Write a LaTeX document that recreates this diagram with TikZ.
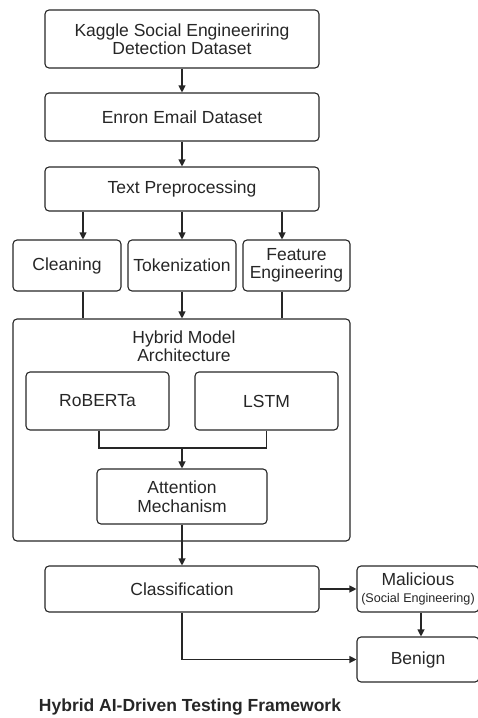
\documentclass[tikz,border=0pt]{standalone}
\usepackage{fontspec}
\setmainfont{Liberation Sans}
\usetikzlibrary{arrows.meta,positioning}
\tikzset{
 box/.style = {rectangle, rounded corners=4pt, draw=black!85,
           line width=1.1pt, align=center, inner sep=1pt,
           text=black!85, font=\fontsize{17.5}{18.5}\selectfont},
 plain/.style = {align=center, text=black!85,
           font=\fontsize{17.5}{18.5}\selectfont},
 arr/.style = {draw=black!85, line width=1.1pt,
           -{Triangle[length=7pt,width=7pt]}},
 line/.style = {draw=black!85, line width=1.1pt}
}

\begin{document}
\begin{tikzpicture}[x=1pt, y=-1pt]
  \useasboundingbox (0,0) rectangle (477,718);
  % Datasets
  \node[box, minimum width=274pt, minimum height=58pt] (kaggle) at (182,39)
  {Kaggle Social Engineeriring\\Detection Dataset};
  \node[box, minimum width=274pt, minimum height=48pt] (enron) at (182,117)
  {Enron Email Dataset};
  \node[box, minimum width=274pt, minimum height=44pt] (prep) at (182,189)
  {Text Preprocessing};

  % Preprocessing steps
  \node[box, minimum width=108pt, minimum height=51pt] (clean) at (67,265.5)
  {Cleaning};
  \node[box, minimum width=108pt, minimum height=51pt] (token) at (182,265.5)
  {Tokenization};
  \node[box, minimum width=107pt, minimum height=51pt] (feature) at (296.5,265.5)
  {Feature\\Engineering};

  % Hybrid model
  \node[box, minimum width=337pt, minimum height=222pt] (hybrid) at (181.5,430) {};
  \node[plain] (arch) at (184,346)
  {Hybrid Model\\Architecture};
  \node[box, minimum width=143pt, minimum height=58pt] (roberta) at (97.5,401)
  {RoBERTa};
  \node[box, minimum width=143pt, minimum height=58pt] (lstm) at (266.5,401)
  {LSTM};
  \node[box, minimum width=170pt, minimum height=55pt] (attn) at (182,496.5)
  {Attention\\Mechanism};
  \coordinate (merge) at (182,448);

  % Output
  \node[box, minimum width=274pt, minimum height=46pt] (classif) at (182,589)
  {Classification};
  \node[box, minimum width=122pt, minimum height=46pt] (malic) at (418,589)
  {Malicious\\[-2pt]{\fontsize{12.6}{14}\selectfont(Social Engineering)}};
  \node[box, minimum width=122pt, minimum height=45pt] (benign) at (418,659.5)
  {Benign};

  \node[plain, font=\bfseries\fontsize{17.5}{19}\selectfont] (title) at (190,707)
  {Hybrid AI-Driven Testing Framework};

  % Connectors
  \draw[arr] (kaggle) -- (enron);
  \draw[arr] (enron) -- (prep);
  \draw[arr] ([xshift=-99pt]prep.south) -- ([xshift=-99pt]prep.south |- clean.north);
  \draw[arr] (prep) -- (token);
  \draw[arr] ([xshift=100pt]prep.south) -- ([xshift=100pt]prep.south |- feature.north);
  \draw[line] ([xshift=16pt]clean.south) -- ([xshift=16pt]clean.south |- hybrid.north);
  \draw[arr] (token) -- (token.south |- hybrid.north);
  \draw[line] ([xshift=-14.5pt]feature.south) -- ([xshift=-14.5pt]feature.south |- hybrid.north);
  \draw[line] ([xshift=1.5pt]roberta.south) |- (merge) -| (lstm.south);
  \draw[arr] (merge) -- (attn.north);
  \draw[arr] (attn) -- (classif);
  \draw[arr] (classif) -- (malic);
  \draw[arr] ([xshift=3pt]malic.south) -- ([xshift=3pt]benign.north);
  \draw[arr] (classif.south) |- (benign.west);
\end{tikzpicture}
\end{document}
